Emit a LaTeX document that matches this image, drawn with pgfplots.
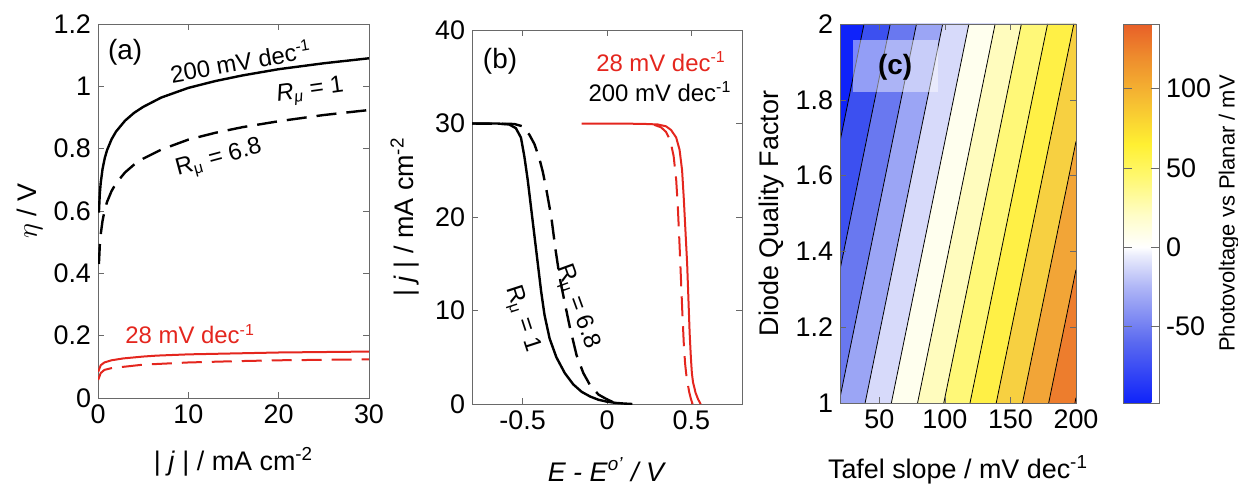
\documentclass[border=0pt]{standalone}
\usepackage{fontspec}
\setmainfont{Liberation Sans}
\usepackage{pgfplots}
\pgfplotsset{compat=1.18}

\definecolor{mred}{RGB}{228,38,30}
\definecolor{axgray}{RGB}{105,105,105}
% contour band colours, lowest level first
\definecolor{c0}{RGB}{15,35,250}
\definecolor{c1}{RGB}{60,80,240}
\definecolor{c2}{RGB}{105,120,240}
\definecolor{c3}{RGB}{155,165,245}
\definecolor{c4}{RGB}{215,218,250}
\definecolor{c5}{RGB}{255,255,238}
\definecolor{c6}{RGB}{255,252,190}
\definecolor{c7}{RGB}{255,248,120}
\definecolor{c8}{RGB}{255,240,70}
\definecolor{c9}{RGB}{247,208,65}
\definecolor{c10}{RGB}{242,165,55}
\definecolor{c11}{RGB}{237,125,45}
\definecolor{c12}{RGB}{232,95,40}

\newcommand\tickfont{\fontsize{13.5}{16}\selectfont}
\newcommand\smallfont{\fontsize{12}{14}\selectfont}

\pgfplotsset{
  panel/.style={
    scale only axis, anchor=south west,
    font=\tickfont,
    /pgf/number format/assume math mode=true,
    axis line style={axgray},
    tick style={axgray},
    major tick length=3bp,
    tick align=inside,
    xlabel style={anchor=center},
    ylabel style={anchor=center},
  },
}

\begin{document}
\begin{tikzpicture}
\useasboundingbox (0,0) rectangle (619bp,243.5bp);

% ---------- (a) overpotential vs current density
\begin{axis}[panel, at={(49bp,44.5bp)}, width=135.5bp, height=187bp,
  xmin=0, xmax=30, ymin=0, ymax=1.2,
  xtick={0,10,20,30}, ytick={0,0.2,0.4,0.6,0.8,1,1.2},
  xlabel={| \textit{j} | / mA cm\textsuperscript{-2}},
  ylabel={$\eta$ / V},
  xlabel style={at={(axis description cs:0.5,-0.171)}},
  ylabel style={at={(axis description cs:-0.251,0.5)}}]
\addplot[black, line width=1.2bp] coordinates {
(0.1,0.595) (0.2,0.655) (0.3,0.690) (0.5,0.734) (0.75,0.770) (1,0.795)
(1.5,0.830) (2,0.855) (3,0.890) (4,0.915) (5,0.934) (7,0.964) (10,0.995)
(13,1.017) (16,1.035) (20,1.055) (25,1.074) (30,1.09)};
\addplot[black, line width=1.2bp, dash pattern=on 10bp off 5bp] coordinates {
(0.1,0.43) (0.2,0.49) (0.3,0.525) (0.5,0.568) (0.75,0.604) (1,0.629)
(1.5,0.664) (2,0.689) (3,0.724) (4,0.749) (5,0.768) (7,0.797) (10,0.829)
(13,0.851) (16,0.869) (20,0.888) (25,0.908) (30,0.924)};
\addplot[mred, line width=1bp] coordinates {
(0.02,0.084) (0.3,0.105) (0.7,0.114) (1.5,0.121) (2.8,0.127) (5,0.133)
(6.5,0.136) (10,0.140) (15,0.143) (20,0.146) (30,0.149)};
\addplot[mred, line width=1bp, dash pattern=on 10bp off 5bp] coordinates {
(0.02,0.058) (0.3,0.08) (0.7,0.09) (1.5,0.096) (2.8,0.1) (5,0.107)
(10,0.114) (15,0.118) (20,0.121) (30,0.124)};
\node[font=\fontsize{14}{16}\selectfont] at (axis cs:3,1.11) {(a)};
\node[font=\smallfont, rotate=10] at (axis cs:15.8,1.081) {200 mV dec\textsuperscript{-1}};
\node[font=\smallfont, rotate=8] at (axis cs:23.5,0.982) {\textit{R}\textsubscript{\textit{μ}} = 1};
\node[font=\smallfont, rotate=15] at (axis cs:13.4,0.767) {R\textsubscript{μ} = 6.8};
\node[font=\smallfont, text=mred] at (axis cs:10.2,0.205) {28 mV dec\textsuperscript{-1}};
\end{axis}

% ---------- (b) current density vs potential
\begin{axis}[panel, at={(236bp,41.5bp)}, width=135bp, height=187bp,
  xmin=-0.8, xmax=0.8, ymin=0, ymax=40,
  xtick={-0.5,0,0.5}, ytick={0,10,20,30,40},
  xlabel={\textit{E - E}\textsuperscript{\textit{o'}}\textit{ / V}},
  ylabel={| \textit{j} | / mA cm\textsuperscript{-2}},
  xlabel style={at={(axis description cs:0.5,-0.176)}},
  ylabel style={at={(axis description cs:-0.248,0.5)}}]
\addplot[black, line width=1.2bp, dash pattern=on 10bp off 5bp] coordinates {
(-0.8,30) (-0.55,29.95) (-0.5,29.7) (-0.46,28.8) (-0.43,27.8) (-0.40,26.2)
(-0.38,24.8) (-0.36,23) (-0.33,20) (-0.305,16.5) (-0.28,13.5) (-0.25,10.8)
(-0.22,8.2) (-0.18,5.2) (-0.14,3.3) (-0.10,2) (-0.05,1) (0,0.5) (0.03,0.25) (0.06,0)};
\addplot[black, line width=1.2bp] coordinates {
(-0.8,30) (-0.65,30) (-0.58,29.9) (-0.54,29.5) (-0.51,28.5) (-0.49,26.5)
(-0.47,24) (-0.45,21) (-0.43,18) (-0.41,15) (-0.39,12) (-0.37,9.5)
(-0.34,7) (-0.30,5) (-0.25,3.3) (-0.20,2.1) (-0.15,1.3) (-0.10,0.8)
(-0.05,0.45) (0,0.25) (0.05,0.12) (0.1,0.05) (0.15,0)};
\addplot[mred, line width=1bp, dash pattern=on 10bp off 5bp] coordinates {
(0.28,29.85) (0.32,29.6) (0.35,29.1) (0.375,28.2) (0.395,26.5) (0.41,24)
(0.42,21) (0.43,17) (0.438,13.5) (0.446,10) (0.455,6.5) (0.463,4.3)
(0.472,2.8) (0.487,1.3) (0.498,0.5) (0.507,0)};
\addplot[mred, line width=1bp] coordinates {
(-0.15,30) (0.2,29.97) (0.3,29.9) (0.35,29.7) (0.38,29.3) (0.41,28.5)
(0.43,27.2) (0.445,25) (0.455,22) (0.465,18.5) (0.475,15) (0.483,11)
(0.49,7.5) (0.497,5) (0.503,3.3) (0.51,2.3) (0.525,1.2) (0.54,0.5) (0.555,0)};
\node[font=\fontsize{14}{16}\selectfont] at (axis cs:-0.634,36.7) {(b)};
\node[font=\smallfont, text=mred] at (axis cs:0.32,36.6) {28 mV dec\textsuperscript{-1}};
\node[font=\smallfont] at (axis cs:0.314,33.4) {200 mV dec\textsuperscript{-1}};
\node[font=\smallfont, rotate=-70] at (axis cs:-0.178,10.4) {R\textsubscript{μ} = 6.8};
\node[font=\smallfont, rotate=-72] at (axis cs:-0.504,9.1) {R\textsubscript{μ} = 1};
\end{axis}

% ---------- (c) photovoltage map, bands between contour lines 20 mV apart
\begin{axis}[panel, at={(420bp,42bp)}, width=118bp, height=189.5bp,
  axis on top,
  xmin=20, xmax=200, ymin=1, ymax=2,
  xtick={50,100,150,200}, ytick={1,1.2,1.4,1.6,1.8,2},
  xlabel={Tafel slope / mV dec\textsuperscript{-1}},
  ylabel={Diode Quality Factor},
  xlabel style={at={(axis description cs:0.5,-0.177)}},
  ylabel style={at={(axis description cs:-0.288,0.5)}},
  colormap={pv}{rgb255(1.7pt)=(15,35,250) rgb255(40pt)=(90,105,240)
    rgb255(75pt)=(175,182,246) rgb255(95pt)=(235,237,252) rgb255(100pt)=(255,255,255)
    rgb255(120pt)=(255,253,200) rgb255(145pt)=(255,248,110) rgb255(165pt)=(255,240,50)
    rgb255(195pt)=(245,185,50) rgb255(220pt)=(238,140,45) rgb255(240.8pt)=(232,95,40)},
  point meta min=-98.3, point meta max=140.8,
  colorbar,
  colorbar shift/.style={xshift=9bp},
  colorbar style={
    scale only axis, width=18bp, height=189.5bp,
    font=\tickfont,
    /pgf/number format/assume math mode=true,
    ytick={-50,0,50,100},
    axis line style={axgray}, tick style={axgray},
    ylabel={Photovoltage vs Planar / mV},
    ylabel style={font=\fontsize{11}{13}\selectfont,
      at={(axis description cs:2.94,0.5)}, anchor=center}},
  ]
% region to the right of each contour line, painted from the lowest level up
\addplot[draw=none, fill=c0] coordinates {(20,1) (200,1) (200,2) (20,2)};
\addplot[draw=none, fill=c1] coordinates {(20,1) (200,1) (200,2) (38.32,2) (20,1.690)};
\addplot[draw=none, fill=c2] coordinates {(20,1) (200,1) (200,2) (58.32,2) (20,1.352)};
\addplot[draw=none, fill=c3] coordinates {(20,1) (200,1) (200,2) (78.32,2) (20,1.014)};
\addplot[draw=none, fill=c4] coordinates {(39.16,1) (200,1) (200,2) (98.32,2)};
\addplot[draw=none, fill=c5] coordinates {(59.16,1) (200,1) (200,2) (118.32,2)};
\addplot[draw=none, fill=c6] coordinates {(79.16,1) (200,1) (200,2) (138.32,2)};
\addplot[draw=none, fill=c7] coordinates {(99.16,1) (200,1) (200,2) (158.32,2)};
\addplot[draw=none, fill=c8] coordinates {(119.16,1) (200,1) (200,2) (178.32,2)};
\addplot[draw=none, fill=c9] coordinates {(139.16,1) (200,1) (200,2) (198.32,2)};
\addplot[draw=none, fill=c10] coordinates {(159.16,1) (200,1) (200,1.690)};
\addplot[draw=none, fill=c11] coordinates {(179.16,1) (200,1) (200,1.352)};
\addplot[draw=none, fill=c12] coordinates {(199.16,1) (200,1) (200,1.014)};
% contour lines
\addplot[black, thin] coordinates {(20,1.690) (38.32,2)};
\addplot[black, thin] coordinates {(20,1.352) (58.32,2)};
\addplot[black, thin] coordinates {(20,1.014) (78.32,2)};
\addplot[black, thin] coordinates {(39.16,1) (98.32,2)};
\addplot[black, thin] coordinates {(59.16,1) (118.32,2)};
\addplot[black, thin] coordinates {(79.16,1) (138.32,2)};
\addplot[black, thin] coordinates {(99.16,1) (158.32,2)};
\addplot[black, thin] coordinates {(119.16,1) (178.32,2)};
\addplot[black, thin] coordinates {(139.16,1) (198.32,2)};
\addplot[black, thin] coordinates {(159.16,1) (200,1.690)};
\addplot[black, thin] coordinates {(179.16,1) (200,1.352)};
\addplot[black, thin] coordinates {(199.16,1) (200,1.014)};
% translucent box behind the panel letter
\addplot[draw=none, fill=white, fill opacity=0.45] coordinates {(29.9,1.821) (94.8,1.821) (94.8,1.958) (29.9,1.958)};
\node[font=\fontsize{14}{16}\selectfont\bfseries] at (axis cs:62,1.885) {(c)};
\end{axis}
\end{tikzpicture}
\end{document}
